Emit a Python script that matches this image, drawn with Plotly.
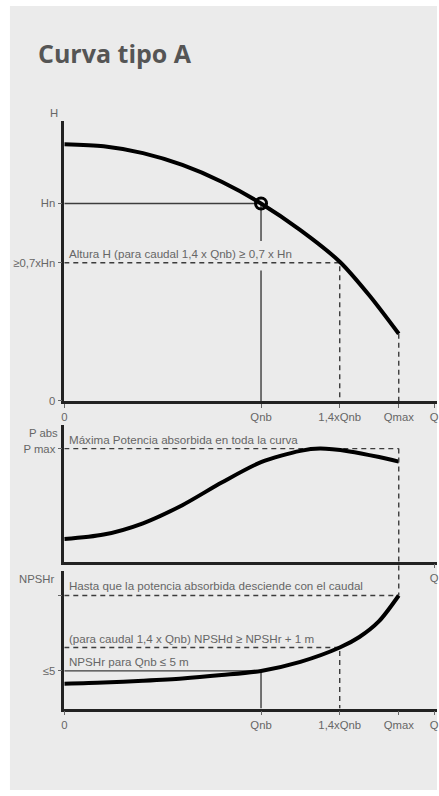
import plotly.graph_objects as go

W, HGT = 439, 796

# ---------------- data ----------------
Q_NB = 1.0
Q_14 = 1.4
Q_MAX = 1.7
Q_END = 1.88
H_N = 1.0
H_07 = 0.7
P_MAX = 1.0
NPSH_QNB = 5.0
NPSH_14 = 8.1
NPSH_QMAX = 15.0

q_h = [0, 0.2, 0.4, 0.6, 0.8, 1.0, 1.2, 1.4, 1.55, 1.7]
h_vals = [1.30, 1.29, 1.255, 1.195, 1.11, 1.00, 0.865, 0.705, 0.535, 0.34]

q_p = [0, 0.2, 0.4, 0.6, 0.8, 1.0, 1.2, 1.3, 1.45, 1.6, 1.7]
p_vals = [0.20, 0.24, 0.34, 0.50, 0.70, 0.88, 0.98, 1.0, 0.975, 0.925, 0.885]

q_n = [0, 0.2, 0.4, 0.6, 0.8, 1.0, 1.2, 1.4, 1.5, 1.6, 1.7]
npsh_vals = [3.3, 3.45, 3.7, 4.0, 4.45, 5.0, 6.2, 8.1, 9.5, 11.6, 15.0]

x_tickvals = [0, Q_NB, Q_14, Q_MAX, Q_END]
x_ticktext = ["0", "Qnb", "1,4xQnb", "Qmax", "Q"]

h_tickvals = [0, H_07, H_N]
h_ticktext = ["0", "≥0,7xHn", "Hn"]
p_tickvals = [P_MAX]
p_ticktext = ["P max"]
n_tickvals = [NPSH_QNB, NPSH_QMAX]
n_ticktext = ["≤5", ""]

title_text = "Curva tipo A"
txt_h = "Altura H (para caudal 1,4 x Qnb) ≥ 0,7 x Hn"
txt_p = "Máxima Potencia absorbida en toda la curva"
txt_n1 = "Hasta que la potencia absorbida desciende con el caudal"
txt_n2 = "(para caudal 1,4 x Qnb) NPSHd ≥ NPSHr + 1 m"
txt_n3 = "NPSHr para Qnb ≤ 5 m"

# ---------------- layout geometry ----------------
def py(px):
    return 1 - px / HGT

X0 = 62 / W
XR = [0, (W - 62) / 199.0]
D1 = [py(404), py(122)]
R1 = [0, (404 - 122) / 199.0]
D2 = [py(566), py(428)]
R2 = [0, (566 - 428) / 114.0]
D3 = [py(714), py(575)]
R3 = [0, (714 - 575) / 7.6]

def to_paper(v, d, r):
    return d[0] + (v - r[0]) / (r[1] - r[0]) * (d[1] - d[0])

BG = "#ebebeb"
AX = "#222222"
REF = "#3c3c3c"
TXT = "#666666"
FONT = "Liberation Sans, Arial, sans-serif"
FS_TICK = 11.3
FS_TXT = 11.6

fig = go.Figure()

def line(x, y, xa, ya, dash=None, width=1.4, color=REF):
    fig.add_trace(go.Scatter(x=x, y=y, xaxis=xa, yaxis=ya, mode="lines",
                             line=dict(color=color, width=width, dash=dash),
                             hoverinfo="skip", showlegend=False))

DASH = "5px,4px"

# panel 1
line([0, Q_NB], [H_N, H_N], "x", "y")
line([Q_NB, Q_NB], [H_N, 0.81], "x", "y")
line([Q_NB, Q_NB], [0.66, 0], "x", "y")
line([0, Q_14, Q_14], [H_07, H_07, 0], "x", "y", dash=DASH)
line([Q_MAX, Q_MAX], [h_vals[-1], 0], "x", "y", dash=DASH)
fig.add_trace(go.Scatter(x=q_h, y=h_vals, xaxis="x", yaxis="y", mode="lines",
                         line=dict(color="#000", width=4, shape="spline", smoothing=0.8),
                         hoverinfo="skip", showlegend=False))
fig.add_trace(go.Scatter(x=[Q_NB], y=[H_N], xaxis="x", yaxis="y", mode="markers",
                         marker=dict(symbol="circle-open", size=11, color="#000",
                                     line=dict(width=3, color="#000")),
                         hoverinfo="skip", showlegend=False))

# panel 2
line([0, Q_MAX], [P_MAX, P_MAX], "x2", "y2", dash=DASH)
fig.add_trace(go.Scatter(x=q_p, y=p_vals, xaxis="x2", yaxis="y2", mode="lines",
                         line=dict(color="#000", width=4, shape="spline", smoothing=0.8),
                         hoverinfo="skip", showlegend=False))

# panel 3
line([0, Q_MAX], [NPSH_QMAX, NPSH_QMAX], "x3", "y3", dash=DASH)
line([0, Q_14, Q_14], [NPSH_14, NPSH_14, 0], "x3", "y3", dash=DASH)
line([0, Q_NB, Q_NB], [NPSH_QNB, NPSH_QNB, 0], "x3", "y3")
fig.add_trace(go.Scatter(x=q_n, y=npsh_vals, xaxis="x3", yaxis="y3", mode="lines",
                         line=dict(color="#000", width=4, shape="spline", smoothing=0.8),
                         hoverinfo="skip", showlegend=False))

shapes = [
    dict(type="rect", xref="paper", yref="paper", x0=7 / W, x1=1, y0=0, y1=py(6),
         fillcolor=BG, line=dict(width=0), layer="below"),
    dict(type="line", xref="x2", yref="paper", x0=Q_MAX, x1=Q_MAX,
         y0=to_paper(P_MAX, D2, R2), y1=to_paper(NPSH_QMAX, D3, R3),
         line=dict(color=REF, width=1.4, dash=DASH)),
]

def xax(domain_anchor, tv=None, tt=None):
    return dict(domain=[X0, 1], range=XR, anchor=domain_anchor, showgrid=False,
                zeroline=False, showline=True, linecolor=AX, linewidth=2.5,
                tickmode="array", tickvals=tv, ticktext=tt, ticklabeloverflow="allow",
                ticks="outside", ticklen=4, tickwidth=1, tickcolor="#666",
                tickfont=dict(family=FONT, size=FS_TICK, color=TXT), fixedrange=True)

def yax(domain, rng, anchor, tv, tt):
    return dict(domain=domain, range=rng, anchor=anchor, showgrid=False,
                zeroline=False, showline=True, linecolor=AX, linewidth=2.5,
                tickmode="array", tickvals=tv, ticktext=tt, ticklabeloverflow="allow",
                ticks="outside", ticklen=4, tickwidth=1, tickcolor="#666",
                tickfont=dict(family=FONT, size=FS_TICK, color=TXT), fixedrange=True)

ann = []
def side_label(text, yref, yanchor, xshift):
    ann.append(dict(text=text, xref="paper", yref=yref + " domain", x=X0, y=1,
                    xanchor="right", yanchor=yanchor, xshift=xshift, showarrow=False,
                    font=dict(family=FONT, size=FS_TICK, color=TXT)))

side_label("H", "y", "bottom", -4)
side_label("P abs", "y2", "top", -4)
side_label("NPSHr", "y3", "top", -8)

def in_text(text, xr, yr, y):
    ann.append(dict(text=text, xref=xr, yref=yr, x=0, y=y, xanchor="left",
                    yanchor="bottom", xshift=3, yshift=1, showarrow=False,
                    font=dict(family=FONT, size=FS_TXT, color=TXT)))

in_text(txt_h, "x", "y", H_07)
in_text(txt_p, "x2", "y2", P_MAX)
in_text(txt_n1, "x3", "y3", NPSH_QMAX)
in_text(txt_n2, "x3", "y3", NPSH_14)
in_text(txt_n3, "x3", "y3", NPSH_QNB)

ann.append(dict(text="<b>" + title_text + "</b>", xref="paper", yref="paper",
                x=33 / W, y=py(53), xanchor="left", yanchor="middle", showarrow=False,
                font=dict(family="Open Sans, sans-serif", size=25, color="#555555")))

fig.update_layout(
    width=W, height=HGT, margin=dict(l=0, r=0, t=0, b=0, pad=0),
    paper_bgcolor="#ffffff", plot_bgcolor="rgba(0,0,0,0)",
    showlegend=False,
    xaxis=xax("y", tv=x_tickvals, tt=x_ticktext),
    xaxis2=xax("y2", tv=[Q_END], tt=["Q"]),
    xaxis3=xax("y3", tv=x_tickvals, tt=x_ticktext),
    yaxis=yax(D1, R1, "x", h_tickvals, h_ticktext),
    yaxis2=yax(D2, R2, "x2", p_tickvals, p_ticktext),
    yaxis3=yax(D3, R3, "x3", n_tickvals, n_ticktext),
    shapes=shapes, annotations=ann,
)

fig.write_html("out.html", config={"displayModeBar": False},
               post_script="document.body.style.margin='0';document.body.style.overflow='hidden';")
